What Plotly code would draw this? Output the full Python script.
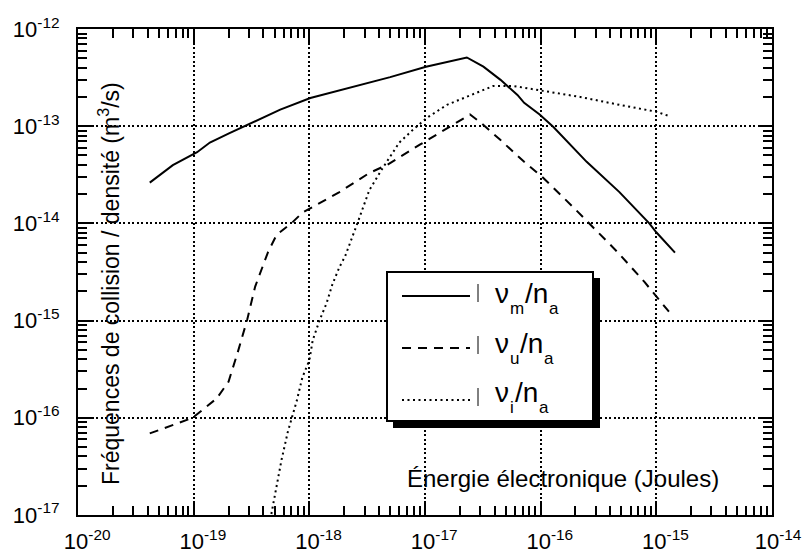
import plotly.graph_objects as go

# ---- data ----
energy_m = [4.17e-20, 6.6e-20, 1.07e-19, 1.38e-19, 2.04e-19, 3.55e-19, 5.6e-19, 1.02e-18, 2.1e-18,
            5.0e-18, 1.02e-17, 2.3e-17, 3.2e-17, 4.5e-17, 6.3e-17, 7.2e-17, 9.8e-17, 1.29e-16,
            2.5e-16, 4.8e-16, 8.7e-16, 1.0e-15, 1.45e-15]
nu_m = [2.63e-14, 3.98e-14, 5.4e-14, 6.8e-14, 8.5e-14, 1.15e-13, 1.48e-13, 1.95e-13, 2.45e-13,
        3.2e-13, 4.1e-13, 5.1e-13, 4.1e-13, 3.0e-13, 2.1e-13, 1.74e-13, 1.32e-13, 9.8e-14,
        4.3e-14, 2.1e-14, 1.0e-14, 8.1e-15, 5.0e-15]

energy_u = [4.17e-20, 9.8e-20, 1.58e-19, 2.0e-19, 2.4e-19, 2.9e-19, 3.4e-19, 3.9e-19, 4.4e-19,
            5.2e-19, 7.1e-19, 8.7e-19, 1.82e-18, 3.3e-18, 4.7e-18, 9.1e-18, 1.74e-17, 2.45e-17,
            3.0e-17, 4.5e-17, 7.2e-17, 1.05e-16, 1.9e-16, 2.6e-16, 4.6e-16, 7.9e-16, 1.35e-15]
nu_u = [6.9e-17, 1.0e-16, 1.58e-16, 2.35e-16, 4.7e-16, 1.02e-15, 2.24e-15, 3.55e-15, 5.1e-15,
        7.6e-15, 1.02e-14, 1.29e-14, 2.1e-14, 3.3e-14, 4.0e-14, 6.5e-14, 1.02e-13, 1.32e-13,
        1.1e-13, 7.2e-14, 4.3e-14, 2.95e-14, 1.48e-14, 1.02e-14, 5.1e-15, 2.5e-15, 1.15e-15]

energy_i = [4.6e-19, 5.2e-19, 5.75e-19, 6.5e-19, 7.8e-19, 8.7e-19, 1.0e-18, 1.07e-18, 1.23e-18,
            1.41e-18, 1.58e-18, 1.82e-18, 2.04e-18, 2.6e-18, 3.3e-18, 4.3e-18, 6.0e-18, 8.1e-18,
            1.05e-17, 1.55e-17, 2.3e-17, 3.9e-17, 5.75e-17, 9.8e-17, 2.2e-16, 4.8e-16, 1.0e-15,
            1.32e-15]
nu_i = [9.0e-18, 1.9e-17, 3.7e-17, 7.1e-17, 1.51e-16, 2.6e-16, 3.9e-16, 6.3e-16, 1.02e-15,
        1.51e-15, 2.35e-15, 3.55e-15, 4.6e-15, 1.0e-14, 2.2e-14, 3.7e-14, 6.8e-14, 9.5e-14,
        1.23e-13, 1.66e-13, 2.0e-13, 2.6e-13, 2.6e-13, 2.35e-13, 2.0e-13, 1.66e-13, 1.41e-13,
        1.26e-13]

x_tickvals = [1e-20, 1e-19, 1e-18, 1e-17, 1e-16, 1e-15, 1e-14]
x_exps = ["-20", "-19", "-18", "-17", "-16", "-15", "-14"]
y_tickvals = [1e-17, 1e-16, 1e-15, 1e-14, 1e-13, 1e-12]
y_exps = ["-17", "-16", "-15", "-14", "-13", "-12"]

legend_nu_subs = ["m", "u", "i"]

FONT = "Liberation Sans, Arial, Helvetica, sans-serif"
W, H = 803, 556
L, R, T, B = 78, 772, 29, 515


def px(x):
    return (x - L) / (R - L)


def py(y):
    return (B - y) / (B - T)


def minor_vals(lo, hi):
    out = []
    for d in range(lo, hi):
        for k in range(2, 10):
            out.append(k * 10.0 ** d)
    return out


fig = go.Figure()
styles = [dict(color="black", width=2, dash="solid"),
          dict(color="black", width=2, dash="9px,7px"),
          dict(color="black", width=2, dash="2px,3.5px")]
for xs, ys, st in [(energy_m, nu_m, styles[0]), (energy_u, nu_u, styles[1]), (energy_i, nu_i, styles[2])]:
    fig.add_trace(go.Scatter(x=xs, y=ys, mode="lines", line=st, showlegend=False))

# empty trace so the minor-tick overlay axes are drawn
fig.add_trace(go.Scatter(x=[None], y=[None], xaxis="x2", yaxis="y2", mode="lines",
                         showlegend=False, hoverinfo="skip"))

XR = [-20.0005, -13.9995]
YR = [-17.0005, -11.9995]

xt = ["&nbsp;" * 3 + "10<sup>" + e + "</sup>" for e in x_exps[:-1]] + ["&nbsp;" * 2 + "10<sup>" + x_exps[-1] + "</sup>"]

axis_common = dict(
    type="log", showline=True, linecolor="black", linewidth=2, mirror="allticks",
    ticks="inside", ticklen=14, tickwidth=1.5, tickcolor="black", automargin=False,
    showgrid=True, gridcolor="black", gridwidth=1.5, griddash="2px,2.5px",
    zeroline=False, tickfont=dict(family=FONT, size=22, color="black"), ticklabeloverflow="allow",
)
minor_axis = dict(type="log", showline=False, mirror="allticks", ticks="inside", ticklen=9, tickwidth=2,
                  tickcolor="rgb(0,0,0)", automargin=False, showgrid=False, zeroline=False,
                  showticklabels=False, tickmode="array")
fig.update_layout(
    xaxis=dict(range=XR, tickmode="array", tickvals=x_tickvals, ticktext=xt,
               ticklabelstandoff=6, **axis_common),
    yaxis=dict(range=YR, tickmode="array", tickvals=y_tickvals,
               ticktext=["10<sup>" + e + "</sup>" for e in y_exps],
               ticklabelstandoff=12, **axis_common),
    xaxis2=dict(range=XR, overlaying="x", anchor="y2", side="bottom",
                tickvals=minor_vals(-20, -14), **minor_axis),
    yaxis2=dict(range=YR, overlaying="y", anchor="x2", side="left",
                tickvals=minor_vals(-17, -12), **minor_axis),
)

shapes = []
shapes.append(dict(type="rect", xref="paper", yref="paper", x0=px(393), x1=px(600), y0=py(428), y1=py(278),
                   fillcolor="black", line=dict(width=0), layer="above"))
shapes.append(dict(type="rect", xref="paper", yref="paper", x0=px(387), x1=px(593), y0=py(421), y1=py(272),
                   fillcolor="white", line=dict(color="black", width=2), layer="above"))
line_rows = [296, 348, 400]
base_rows = [303, 353, 402]
for yy, st in zip(line_rows, styles):
    shapes.append(dict(type="line", xref="paper", yref="paper", x0=px(402), x1=px(470), y0=py(yy), y1=py(yy),
                       line=st, layer="above"))
    shapes.append(dict(type="line", xref="paper", yref="paper", x0=px(478), x1=px(478), y0=py(yy - 12), y1=py(yy + 6),
                       line=dict(color="black", width=1), layer="above"))

annotations = []
BIG, SMALL = 28, 17
sub_w = {"m": 0.833 * SMALL, "u": 0.556 * SMALL, "i": 0.222 * SMALL}


def piece(xleft, baseline, text, size):
    return dict(xref="paper", yref="paper", x=px(xleft - 2), y=py(baseline - 0.35 * size), text=text,
                showarrow=False, xanchor="left", yanchor="middle", borderpad=0,
                font=dict(family=FONT, size=size, color="black"))


for base, sub in zip(base_rows, legend_nu_subs):
    annotations.append(piece(496, base, "ν", BIG))
    annotations.append(piece(511, base + 11, sub, SMALL))
    slash_x = 511 + sub_w[sub] + 1
    annotations.append(piece(slash_x, base, "/n", BIG))
    annotations.append(piece(slash_x + 24, base + 11, "a", SMALL))

annotations.append(dict(xref="paper", yref="paper", x=px(563), y=py(478), text="Énergie électronique (Joules)",
                        showarrow=False, xanchor="center", yanchor="middle",
                        font=dict(family=FONT, size=24, color="black")))
annotations.append(dict(xref="paper", yref="paper", x=px(109), y=py(284),
                        text="Fréquences de collision / densité (m<sup>3</sup>/s)", textangle=-90,
                        showarrow=False, xanchor="center", yanchor="middle",
                        font=dict(family=FONT, size=23, color="black")))

fig.update_layout(width=W, height=H, margin=dict(l=L, r=W - R, t=T, b=H - B),
                  paper_bgcolor="white", plot_bgcolor="white", shapes=shapes, annotations=annotations,
                  showlegend=False)

fig.write_html("out.html")
